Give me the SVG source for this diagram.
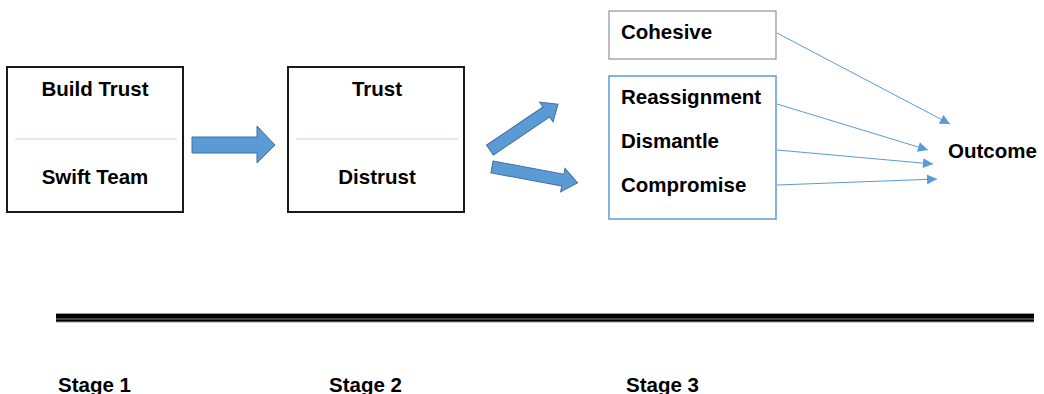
<svg xmlns="http://www.w3.org/2000/svg" width="1044" height="394" viewBox="0 0 1044 394">
<defs>
<style>
.t{font-family:"Liberation Sans",Arial,sans-serif;font-weight:bold;font-size:20.5px;fill:#000}
.box{fill:#fff;stroke:#1a1a1a;stroke-width:2}
.div{stroke:#BDD7EE;stroke-width:1}
.blk{fill:#5B9BD5;stroke:#41719C;stroke-width:1}
.con{stroke:#5B9BD5;stroke-width:1;fill:none;marker-end:url(#ah)}
</style>
<marker id="ah" viewBox="0 0 10 10" refX="10" refY="5" markerWidth="12" markerHeight="10" markerUnits="userSpaceOnUse" orient="auto">
<path d="M0,0 L10,5 L0,10 z" fill="#5B9BD5"/>
</marker>
</defs>
<rect width="1044" height="394" fill="#fff"/>
<g id="stage1">
<rect class="box" x="7" y="67" width="176" height="145"/>
<line class="div" x1="15" y1="139" x2="177" y2="139"/>
<text class="t" x="95" y="96" text-anchor="middle">Build Trust</text>
<text class="t" x="95" y="184" text-anchor="middle">Swift Team</text>
</g>
<g id="stage2">
<rect class="box" x="288" y="67" width="176" height="145"/>
<line class="div" x1="296" y1="139" x2="458" y2="139"/>
<text class="t" x="377" y="96" text-anchor="middle">Trust</text>
<text class="t" x="377" y="184" text-anchor="middle">Distrust</text>
</g>
<g id="cohesive">
<rect x="609" y="11" width="167" height="48" fill="#fff" stroke="#7F7F7F" stroke-width="1"/>
<text class="t" x="621" y="39">Cohesive</text>
</g>
<g id="stage3">
<rect x="609" y="76" width="167" height="143" fill="#fff" stroke="#5B9BD5" stroke-width="1.5"/>
<text class="t" x="621" y="104">Reassignment</text>
<text class="t" x="621" y="148">Dismantle</text>
<text class="t" x="621" y="192">Compromise</text>
</g>
<g id="outcome">
<text class="t" x="948" y="158">Outcome</text>
</g>
<g id="connectors">
<path class="blk" d="M192,137 L257,137 L257,126 L275,145 L257,163 L257,153 L192,153 z"/>
<path class="blk" transform="translate(490,150) rotate(-34)" d="M0,-6 L68,-6 L68,-12 L82,0 L68,12 L68,6 L0,6 z"/>
<path class="blk" transform="translate(492,167) rotate(10.5)" d="M0,-6 L72,-6 L72,-12 L87,0 L72,12 L72,6 L0,6 z"/>
<line class="con" x1="777" y1="33" x2="950" y2="124"/>
<line class="con" x1="777" y1="104" x2="928" y2="150"/>
<line class="con" x1="777" y1="150" x2="933" y2="164"/>
<line class="con" x1="777" y1="185" x2="937" y2="179"/>
</g>
<g id="timeline">
<rect x="56" y="313.5" width="978" height="8.5" fill="#000"/>
<line x1="56" y1="313.5" x2="1034" y2="313.5" stroke="#999" stroke-width="1"/>
<line x1="56" y1="319" x2="1034" y2="319" stroke="#888" stroke-width="1"/>
<line x1="56" y1="322" x2="1034" y2="322" stroke="#999" stroke-width="1"/>
<text class="t" x="58" y="392">Stage 1</text>
<text class="t" x="329" y="392">Stage 2</text>
<text class="t" x="626" y="392">Stage 3</text>
</g>
</svg>
